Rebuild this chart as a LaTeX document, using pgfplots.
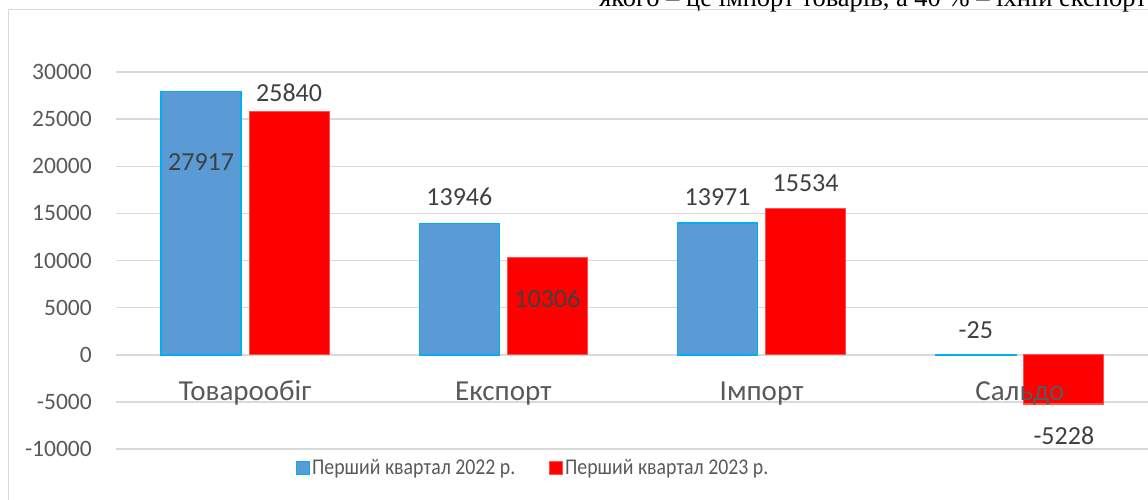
\documentclass[border=0pt]{standalone}
\usepackage{pgfplots}
\pgfplotsset{compat=1.18}
\usepackage{pgfplotstable}
\usepackage{fontspec}
\setmainfont{Carlito}
\newfontfamily\legfont{Carlito}[FakeStretch=0.88]
\newfontfamily\serif{Liberation Serif}
\definecolor{barblue}{HTML}{5B9BD5}
\definecolor{blueedge}{HTML}{00B0F0}
\definecolor{rededge}{HTML}{FF5050}
\definecolor{gridgray}{HTML}{D9D9D9}
\definecolor{txtgray}{HTML}{595959}
\definecolor{lblgray}{HTML}{404040}
\definecolor{framegray}{HTML}{D9D9D9}

\pgfplotsset{
  layers/labelsontop/.define layer set={
    axis background,axis grid,axis ticks,axis lines,main,axis tick labels,axis descriptions,axis foreground
  }{/pgfplots/layers/standard},
}

\pgfplotstableread{
x y dy lab
0 27917 -70.5 27917
1 13946 26 13946
2 13971 26 13971
3 -25 25 -25
}\tblA
\pgfplotstableread{
x y dy lab
0 25840 18 25840
1 10306 -41 10306
2 15534 25.6 15534
3 -5228 -31.7 -5228
}\tblB

\begin{document}
\begin{tikzpicture}
\begin{axis}[
  set layers=labelsontop,
  at={(116pt,50pt)}, anchor=south west,
  scale only axis, width=1033pt, height=377pt,
  xmin=-0.5, xmax=3.5, ymin=-10000, ymax=30000,
  ytick={-10000,-5000,...,30000},
  xtick={0,1,2,3}, xticklabels={Товарообіг,Експорт,Імпорт,Сальдо},
  axis line style={draw=none},
  major tick length=0pt,
  ymajorgrids, grid style={gridgray, line width=1.5pt},
  ybar, bar width=80pt,
  scaled y ticks=false,
  /pgf/number format/assume math mode=true,
  /pgf/number format/1000 sep={},
  yticklabel style={font=\fontsize{23.5}{28}\selectfont, text=txtgray, anchor=east, inner sep=0pt, xshift=-24pt},
  xticklabel style={font=\fontsize{29}{34}\selectfont, text=txtgray, anchor=base, inner sep=0pt, yshift=49pt},
  legend style={at={(0.404,-0.05)}, anchor=center, draw=none, fill=none, legend columns=2,
    font=\legfont\fontsize{22.5}{26}\selectfont, text=txtgray,
    /tikz/every even column/.append style={column sep=32pt}},
  legend image code/.code={\draw[#1, line width=0.8pt] (0pt,-6.5pt) rectangle (13pt,6.5pt);},
  nodes near coords align={center},
]
\addplot[fill=barblue, draw=blueedge, line width=1.6pt, bar shift=-44pt,
  point meta=explicit symbolic, nodes near coords,
  visualization depends on={\thisrow{dy} \as \dy},
  every node near coord/.append style={font=\fontsize{26}{30}\selectfont, text=lblgray, anchor=center, inner sep=0pt, yshift=\dy pt}]
  table[x=x, y=y, meta=lab]{\tblA};
\addlegendentry{Перший квартал 2022 р.}
\addplot[fill=red, draw=rededge, line width=1.2pt, bar shift=44pt,
  point meta=explicit symbolic, nodes near coords,
  visualization depends on={\thisrow{dy} \as \dy},
  every node near coord/.append style={font=\fontsize{26}{30}\selectfont, text=lblgray, anchor=center, inner sep=0pt, yshift=\dy pt}]
  table[x=x, y=y, meta=lab]{\tblB};
\addlegendentry{Перший квартал 2023 р.}
\end{axis}
\draw[framegray, line width=1pt] (8pt,-20pt) rectangle (1170pt,489.5pt);
\node[anchor=base east, font=\serif\fontsize{26.5}{30}\selectfont, inner sep=0pt] at (1147pt,492.5pt) {якого – це імпорт товарів, а 40 \% – їхній експорт};
\pgfresetboundingbox
\useasboundingbox (0pt,0pt) rectangle (1148pt,499pt);
\end{tikzpicture}
\end{document}
